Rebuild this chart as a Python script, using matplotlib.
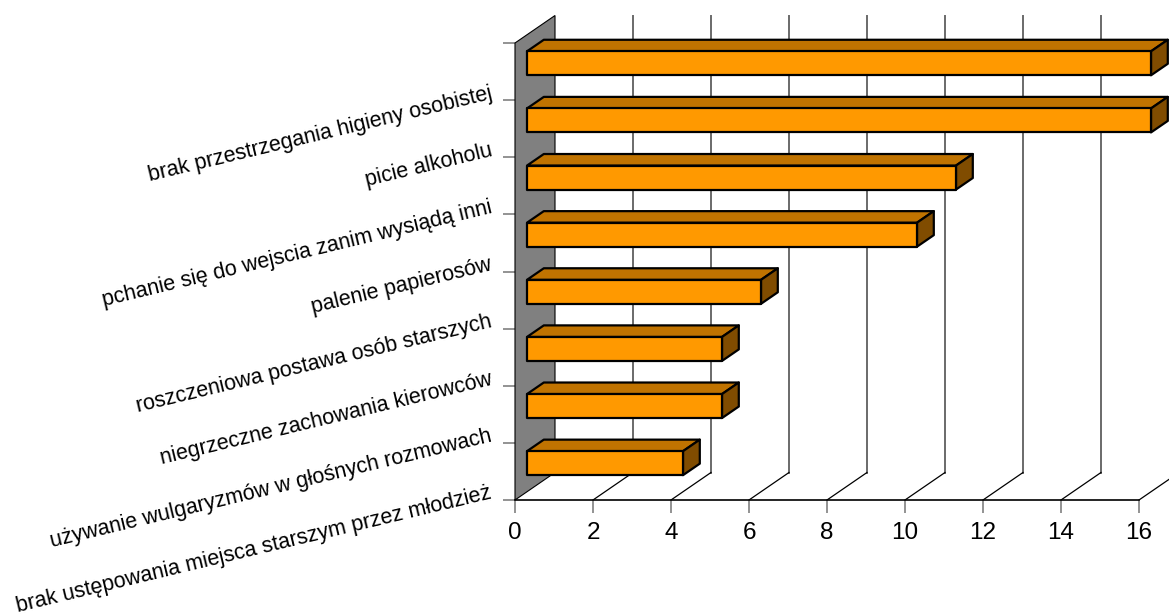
import numpy as np
import matplotlib
matplotlib.use("Agg")
import matplotlib.pyplot as plt
from matplotlib.patches import Polygon

plt.rcParams['font.family'] = ['Liberation Sans', 'DejaVu Sans']

# dane (od góry do dołu)
categories = [
    "brak przestrzegania higieny osobistej",
    "picie alkoholu",
    "pchanie się do wejscia zanim wysiądą inni",
    "palenie papierosów",
    "roszczeniowa postawa osób starszych",
    "niegrzeczne zachowania kierowców",
    "używanie wulgaryzmów w głośnych rozmowach",
    "brak ustępowania miejsca starszym przez młodzież",
]
values = [16, 16, 11, 10, 6, 5, 5, 4]
x_ticks = [0, 2, 4, 6, 8, 10, 12, 14, 16]

W, H = 1169, 616
fig = plt.figure(figsize=(W / 100, H / 100), dpi=100)
ax = fig.add_axes([515 / W, 116 / H, 624 / W, 457 / H])

n = len(categories)
ypos = np.arange(n)[::-1]
ax.set_xlim(0, 16)
ax.set_ylim(-0.5, n - 0.5)

# wektor głębokości (piksele -> jednostki danych)
depth_px = (40, 27.5)
DX = depth_px[0] * 16 / 624
DY = depth_px[1] * n / 457

grid_col = '#808080'

# tylna ściana - linie pionowe
for t in x_ticks[1:]:
    ax.plot([t + DX, t + DX], [-0.5 + DY, n - 0.5 + DY], color='#6a6a6a', lw=1.4,
            clip_on=False, zorder=1)
    # linie podłogi
    ax.plot([t, t + DX], [-0.5, -0.5 + DY], color='black', lw=0.9, clip_on=False, zorder=1)

# lewa ściana
wall = Polygon([(0, -0.5), (0, n - 0.5), (DX, n - 0.5 + DY), (DX, -0.5 + DY)],
               closed=True, facecolor='#808080', edgecolor='black', lw=0.8,
               clip_on=False, zorder=2)
ax.add_patch(wall)

# słupki 3D
h = 0.21
f1, f2 = 0.3, 0.72
for y, v in zip(ypos, values):
    ax1, ay1 = f1 * DX, f1 * DY
    ax2, ay2 = f2 * DX, f2 * DY
    front = [(ax1, y - h + ay1), (v + ax1, y - h + ay1), (v + ax1, y + h + ay1), (ax1, y + h + ay1)]
    top = [(ax1, y + h + ay1), (v + ax1, y + h + ay1), (v + ax2, y + h + ay2), (ax2, y + h + ay2)]
    side = [(v + ax1, y - h + ay1), (v + ax2, y - h + ay2), (v + ax2, y + h + ay2), (v + ax1, y + h + ay1)]
    for pts, col in [(top, '#C07300'), (side, '#804C00'), (front, '#FF9900')]:
        ax.add_patch(Polygon(pts, closed=True, facecolor=col, edgecolor='black',
                             lw=1.6, joinstyle='round', clip_on=False, zorder=3))

# osie
for s in ['top', 'right', 'left']:
    ax.spines[s].set_visible(False)
ax.spines['bottom'].set_color('black')
ax.spines['bottom'].set_linewidth(1.2)
ax.spines['bottom'].set_zorder(2.5)
ax.set_xticks(x_ticks)
ax.set_xticklabels([str(t) for t in x_ticks], fontsize=17.5)
ax.tick_params(axis='x', length=9.5, width=1.2, color=grid_col, pad=6)
ax.set_yticks(np.arange(-0.5, n, 1))
ax.set_yticklabels([])
ax.tick_params(axis='y', length=9, width=1.2, color=grid_col)
ax.patch.set_visible(False)

for y, lab in zip(ypos, categories):
    ax.text(-0.6, y - 0.38, lab, rotation=13.5, rotation_mode='anchor',
            ha='right', va='center', fontsize=15.5)

fig.savefig('out.png', dpi=100)
